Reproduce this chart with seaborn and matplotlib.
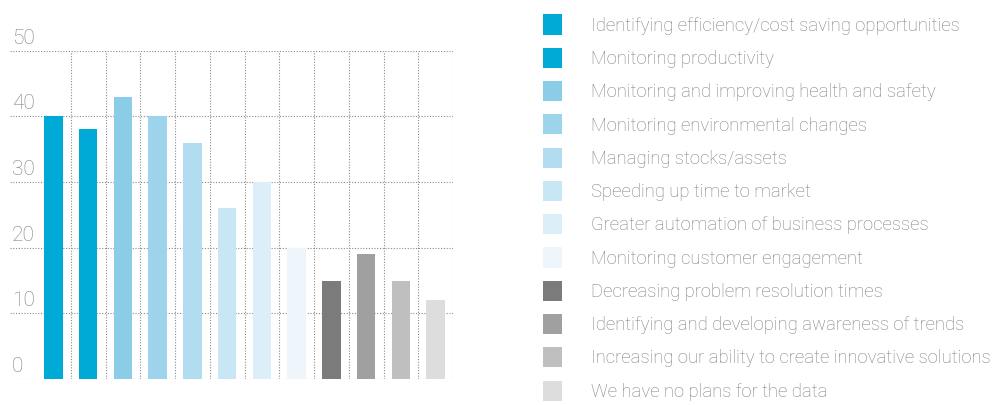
import numpy as np
import pandas as pd
import matplotlib
matplotlib.use("Agg")
import matplotlib.pyplot as plt
import matplotlib.transforms as mtransforms
import seaborn as sns

categories = [
    "Identifying efficiency/cost saving opportunities",
    "Monitoring productivity",
    "Monitoring and improving health and safety",
    "Monitoring environmental changes",
    "Managing stocks/assets",
    "Speeding up time to market",
    "Greater automation of business processes",
    "Monitoring customer engagement",
    "Decreasing problem resolution times",
    "Identifying and developing awareness of trends",
    "Increasing our ability to create innovative solutions",
    "We have no plans for the data",
]
values = [40, 38, 43, 40, 36, 26, 30, 20, 15, 19, 15, 12]
colors = [
    "#00aad6", "#00aad6", "#8bcde7", "#9dd3eb", "#b2dcef", "#c8e6f4",
    "#dceef8", "#eef6fc", "#7b7b7b", "#a0a0a0", "#bfbfbf", "#dddddd",
]
y_ticks = [0, 10, 20, 30, 40, 50]

TEXT_GRAY = "#7e7e7e"
GRID_GRAY = "#8a8a8a"

sns.set_theme(style="white")
plt.rcParams["font.family"] = ["Roboto", "DejaVu Sans"]

df = pd.DataFrame({"category": categories, "value": values})

fig = plt.figure(figsize=(9.95, 4.05), dpi=100)
W, H = 995, 405
ax = fig.add_axes([10 / W, 26 / H, 443 / W, 328.3 / H])

sns.barplot(
    data=df, x="category", y="value", hue="category",
    palette=colors, saturation=1, width=0.53, legend=True, ax=ax,
    linewidth=0,
)

ax.set_xlim(-1.25, 11.5)
ax.set_ylim(0, 50)
ax.set_axisbelow(True)

# dotted grid: horizontal at each value step, vertical between the bars
ax.set_yticks(y_ticks)
ax.set_xticks(np.arange(0.5, len(categories), 1.0), minor=True)
ax.grid(False)
ax.yaxis.grid(True, which="major", color=GRID_GRAY, linestyle=(0, (1, 1.5)), linewidth=0.8)
ax.xaxis.grid(True, which="minor", color=GRID_GRAY, linestyle=(0, (1, 1.5)), linewidth=0.8)
ax.tick_params(axis="both", which="both", length=0, labelleft=False, labelbottom=False)
ax.set_xlabel("")
ax.set_ylabel("")
for s in ax.spines.values():
    s.set_visible(False)

# value labels sit just above their gridline, at the left edge
lab_tr = mtransforms.offset_copy(ax.get_yaxis_transform(), fig=fig, x=0, y=7, units="dots")
for t in y_ticks:
    ax.text(0.004, t, str(t), transform=lab_tr, ha="left", va="baseline",
            fontsize=15, color=TEXT_GRAY, fontweight="light")

handles, labels = ax.get_legend_handles_labels()
ax.get_legend().remove()
fs = 13.3
fs_px = fs * 100 / 72
fig.legend(
    handles, labels, loc="upper left",
    bbox_to_anchor=(543 / W, 1 - 14.5 / H), bbox_transform=fig.transFigure,
    frameon=False, fontsize=fs, borderpad=0, borderaxespad=0,
    handlelength=19 / fs_px, handleheight=24 / fs_px,
    handletextpad=29 / fs_px, labelspacing=0.705, labelcolor=TEXT_GRAY,
    prop={"size": fs, "weight": "light"},
)

fig.savefig("out.png", dpi=100)
